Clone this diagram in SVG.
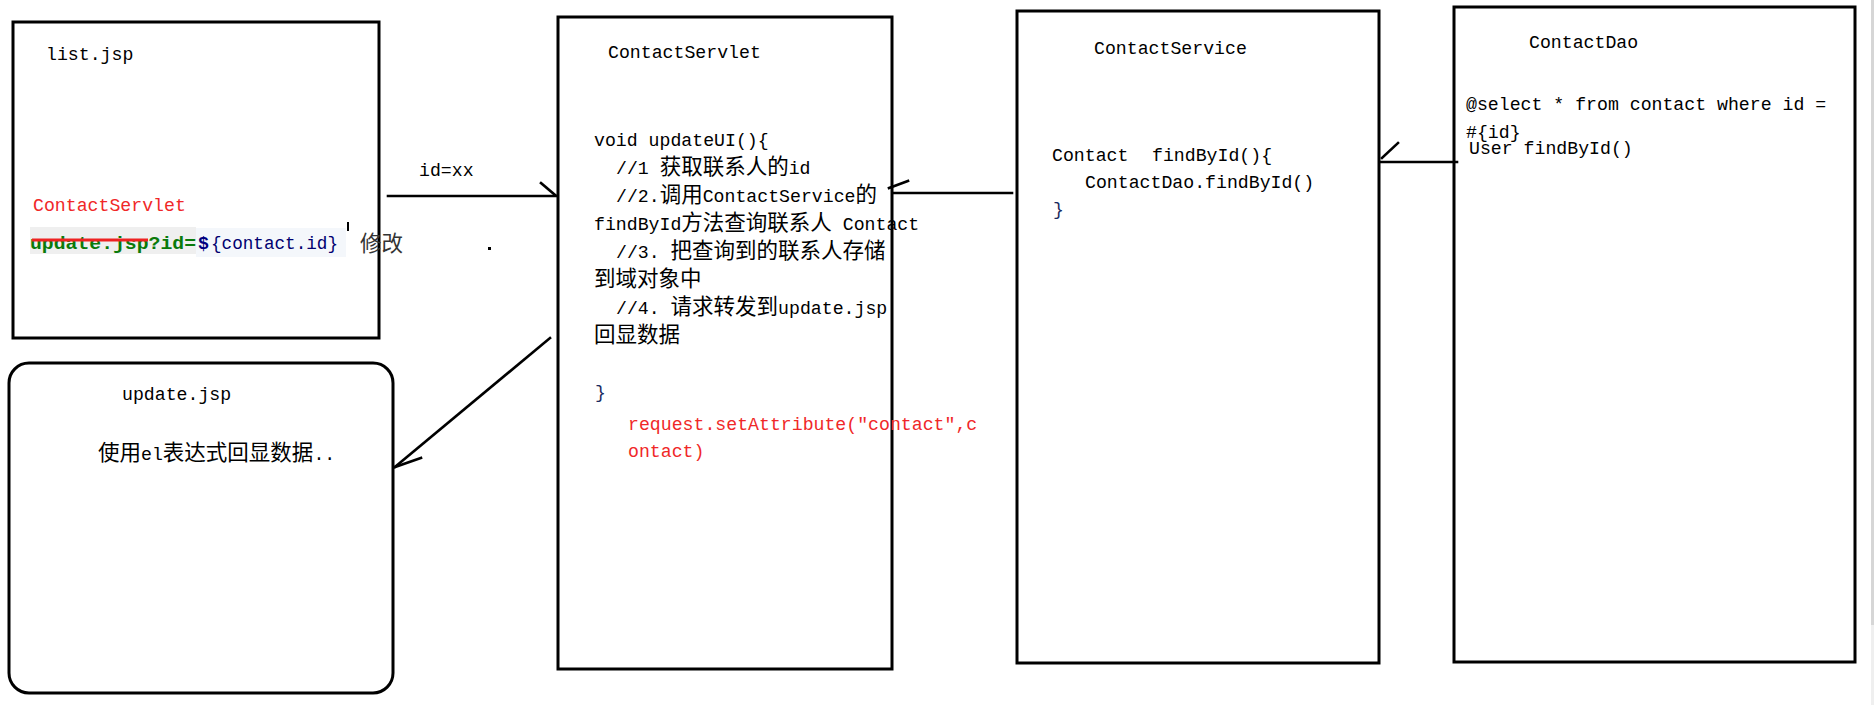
<svg xmlns="http://www.w3.org/2000/svg" width="1874" height="705" viewBox="0 0 1874 705">
<style>
.box{fill:none;stroke:#000;stroke-width:3}
.t{font-family:"Liberation Mono","Noto Sans CJK SC",monospace;font-size:18.2px;fill:#000}
.c{font-family:"Noto Sans CJK SC",sans-serif;font-size:21.5px}
.red{fill:#f02828}
.con{fill:none;stroke:#000;stroke-width:2.6;stroke-linecap:square}
</style>
<rect width="1874" height="705" fill="#fff"/>
<rect x="1871" y="0" width="3" height="625" fill="#d6d6d6"/>
<rect x="1871" y="625" width="3" height="80" fill="#efefef"/>

<g id="list-jsp">
<rect class="box" x="13" y="22" width="366" height="316"/>
<text class="t" x="46" y="60">list.jsp</text>
<text class="t red" x="33" y="211">ContactServlet</text>
<rect x="30" y="227" width="166" height="27" fill="#efefef"/>
<rect x="196" y="228" width="150" height="29" fill="#f4f7fb"/>
<text class="t" x="30" y="249" fill="#0a7a0a" style="fill:#0a7a0a;font-weight:bold" textLength="166" lengthAdjust="spacingAndGlyphs">update.jsp?id=</text>
<line x1="32" y1="240" x2="148" y2="240" stroke="#ee2222" stroke-width="3"/>
<text class="t" x="198" y="249" style="fill:#000080;font-weight:bold">$</text>
<text class="t" x="211" y="249" style="fill:#000070" textLength="127" lengthAdjust="spacingAndGlyphs">{contact.id}</text>
<line x1="348" y1="222" x2="348" y2="231" stroke="#000" stroke-width="2"/>
<text class="t c" x="360" y="251" style="fill:#333">修改</text>
<rect x="488" y="247" width="3" height="3" fill="#000"/>
</g>

<g id="update-jsp">
<rect class="box" x="9" y="363" width="384" height="330" rx="20" ry="20"/>
<text class="t" x="122" y="400">update.jsp</text>
<text class="t" x="98" y="460"><tspan class="c">使用</tspan>el<tspan class="c">表达式回显数据</tspan>..</text>
</g>

<g id="contact-servlet">
<rect class="box" x="558" y="17" width="334" height="652"/>
<text class="t" x="608" y="58">ContactServlet</text>
<text class="t" x="594" y="146">void updateUI(){</text>
<text class="t" x="616" y="174">//1 <tspan class="c">获取联系人的</tspan>id</text>
<text class="t" x="616" y="202">//2.<tspan class="c">调用</tspan>ContactService<tspan class="c">的</tspan></text>
<text class="t" x="594" y="230">findById<tspan class="c">方法查询联系人</tspan> Contact</text>
<text class="t" x="616" y="258">//3. <tspan class="c">把查询到的联系人存储</tspan></text>
<text class="t" x="594" y="286"><tspan class="c">到域对象中</tspan></text>
<text class="t" x="616" y="314">//4. <tspan class="c">请求转发到</tspan>update.jsp</text>
<text class="t" x="594" y="342"><tspan class="c">回显数据</tspan></text>
<text class="t" x="595" y="398" style="fill:#1a2a60">}</text>
<text class="t red" x="628" y="430">request.setAttribute("contact",c</text>
<text class="t red" x="628" y="457">ontact)</text>
</g>

<g id="contact-service">
<rect class="box" x="1017" y="11" width="362" height="652"/>
<text class="t" x="1094" y="54">ContactService</text>
<text class="t" x="1052" y="161">Contact<tspan x="1152">findById(){</tspan></text>
<text class="t" x="1085" y="188">ContactDao.findById()</text>
<text class="t" x="1053" y="215" style="fill:#1a2a60">}</text>
</g>

<g id="contact-dao">
<rect class="box" x="1454" y="7" width="401" height="655"/>
<text class="t" x="1529" y="48">ContactDao</text>
<text class="t" x="1466" y="110">@select * from contact where id =</text>
<text class="t" x="1466" y="138">#{id}</text>
<text class="t" x="1469" y="154">User findById()</text>
</g>

<g id="connectors">
<line class="con" x1="388" y1="196" x2="556" y2="196"/>
<line class="con" x1="541" y1="183" x2="555" y2="195"/>
<text class="t" x="419" y="176">id=xx</text>
<line class="con" x1="893" y1="193" x2="1012" y2="193"/>
<line class="con" x1="889" y1="188" x2="908" y2="181"/>
<line class="con" x1="1380" y1="162" x2="1457" y2="162"/>
<line class="con" x1="1382" y1="158" x2="1398" y2="143"/>
<line class="con" x1="550" y1="338" x2="395" y2="467"/>
<line class="con" x1="395" y1="467" x2="421" y2="458"/>
</g>
</svg>
